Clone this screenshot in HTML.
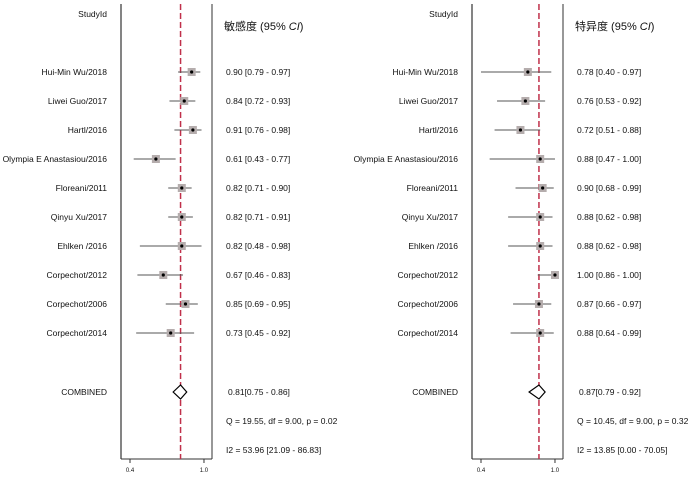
<!DOCTYPE html>
<html><head><meta charset="utf-8"><style>
html,body{margin:0;padding:0;background:#fff;width:700px;height:479px;overflow:hidden}
svg text{font-family:"Liberation Sans","Noto Sans CJK SC",sans-serif;font-size:8.5px;fill:#111}
</style></head><body>
<svg id="s" width="700" height="479" xmlns="http://www.w3.org/2000/svg"></svg>
<script>
const s=document.getElementById('s');let h='';
const names=["Hui-Min Wu/2018","Liwei Guo/2017","Hartl/2016","Olympia E Anastasiou/2016","Floreani/2011","Qinyu Xu/2017","Ehlken /2016","Corpechot/2012","Corpechot/2006","Corpechot/2014"];
const L=[[.90,.79,.97],[.84,.72,.93],[.91,.76,.98],[.61,.43,.77],[.82,.71,.90],[.82,.71,.91],[.82,.48,.98],[.67,.46,.83],[.85,.69,.95],[.73,.45,.92]];
const R=[[.78,.40,.97],[.76,.53,.92],[.72,.51,.88],[.88,.47,1.00],[.90,.68,.99],[.88,.62,.98],[.88,.62,.98],[1.00,.86,1.00],[.87,.66,.97],[.88,.64,.99]];
function panel(o,data,title,comb,cl,cu,q,i2){
 const X=v=>o+130+(v-0.4)*123.3;
 h+=`<line x1="${o+121}" y1="4" x2="${o+121}" y2="459" stroke="#333" stroke-width="1.2"/>`;
 h+=`<line x1="${o+212}" y1="4" x2="${o+212}" y2="459" stroke="#777" stroke-width="1.5"/>`;
 h+=`<line x1="${o+121}" y1="459" x2="${o+212}" y2="459" stroke="#333" stroke-width="1"/>`;
 h+=`<line x1="${X(.4)}" y1="459" x2="${X(.4)}" y2="463" stroke="#333"/><line x1="${X(1)}" y1="459" x2="${X(1)}" y2="463" stroke="#333"/>`;
 h+=`<text x="${X(.4)}" y="472" text-anchor="middle" style="font-size:6px">0.4</text><text x="${X(1)}" y="472" text-anchor="middle" style="font-size:6px">1.0</text>`;
 h+=`<line x1="${X(comb)}" y1="4" x2="${X(comb)}" y2="459" stroke="#c0304a" stroke-width="1.5" stroke-dasharray="6,3"/>`;
 h+=`<text x="${o+107}" y="17" text-anchor="end">StudyId</text>`;
 h+=`<text x="${o+224}" y="30" style="font-size:11px">${title} (95% <tspan font-style="italic">CI</tspan>)</text>`;
 data.forEach((d,i)=>{const y=72+i*29;
  h+=`<line x1="${X(d[1])}" y1="${y}" x2="${X(d[2])}" y2="${y}" stroke="#555" stroke-width="1"/>`;
  h+=`<rect x="${X(d[0])-4}" y="${y-4}" width="8" height="8" fill="#b5adad"/><circle cx="${X(d[0])}" cy="${y}" r="1.6" fill="#000"/>`;
  h+=`<text x="${o+107}" y="${y+3}" text-anchor="end">${names[i]}</text>`;
  h+=`<text x="${o+226}" y="${y+3}">${d[0].toFixed(2)} [${d[1].toFixed(2)} - ${d[2].toFixed(2)}]</text>`;});
 const y=392;
 h+=`<polygon points="${X(cl)},${y} ${X(comb)},${y-7} ${X(cu)},${y} ${X(comb)},${y+7}" fill="#fff" stroke="#000" stroke-width="1.2"/>`;
 h+=`<text x="${o+107}" y="${y+3}" text-anchor="end">COMBINED</text>`;
 h+=`<text x="${o+228}" y="${y+3}">${comb.toFixed(2)}[${cl.toFixed(2)} - ${cu.toFixed(2)}]</text>`;
 h+=`<text x="${o+226}" y="424">${q}</text><text x="${o+226}" y="453">${i2}</text>`;
}
panel(0,L,"敏感度",.81,.75,.86,"Q = 19.55, df = 9.00, p =  0.02","I2 = 53.96 [21.09 - 86.83]");
panel(351,R,"特异度",.87,.79,.92,"Q = 10.45, df = 9.00, p =  0.32","I2 = 13.85 [0.00 - 70.05]");
s.innerHTML=h;
</script>
</body></html>
